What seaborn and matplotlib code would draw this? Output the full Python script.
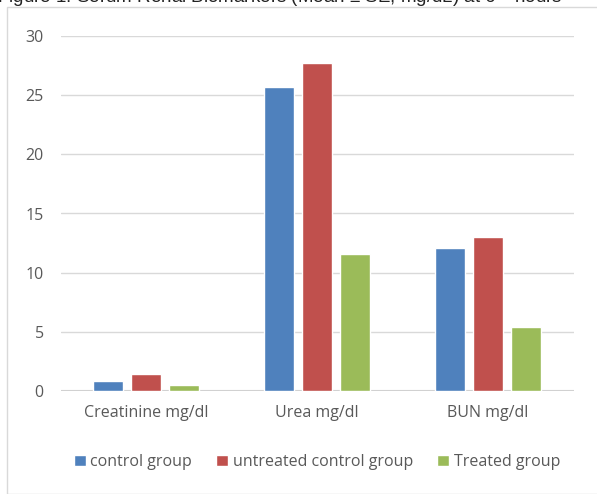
import matplotlib
matplotlib.use('Agg')
import matplotlib.pyplot as plt
import seaborn as sns
import pandas as pd
from matplotlib.patches import Rectangle

categories = ['Creatinine mg/dl', 'Urea mg/dl', 'BUN mg/dl']
groups = ['control group', 'untreated control group', 'Treated group']
control = [0.82, 25.7, 12.06]
untreated = [1.41, 27.7, 13.0]
treated = [0.53, 11.6, 5.45]
yticks = [0, 5, 10, 15, 20, 25, 30]
title = 'Figure 1: Serum Renal Biomarkers (Mean \u00b1 SE, mg/dL) at 6$^{th}$ hours'

df = pd.DataFrame({
    'cat': categories * 3,
    'group': [groups[0]] * 3 + [groups[1]] * 3 + [groups[2]] * 3,
    'val': control + untreated + treated,
})

sns.set_style('white')
plt.rcParams['font.family'] = ['Open Sans', 'DejaVu Sans']

W, H = 597, 494
fig = plt.figure(figsize=(W / 100, H / 100), dpi=100)

# chart border
fig.patches.append(Rectangle((7 / W, 0), 1, 1 - 7 / H, transform=fig.transFigure,
                             fill=False, edgecolor='#d9d9d9', linewidth=1))

ax = fig.add_axes([60.5 / W, (H - 391) / H, (573.5 - 60.5) / W, (391 - 36) / H])
sns.barplot(data=df, x='cat', y='val', hue='group', order=categories, hue_order=groups,
            palette=['#4F81BD', '#C0504D', '#9BBB59'], width=0.666, gap=0.21,
            saturation=1, ax=ax, legend=True)

ax.set_ylim(0, 30)
ax.set_yticks(yticks)
ax.set_xlim(-0.5, 2.5)
ax.yaxis.grid(True, color='#d9d9d9', linewidth=1)
ax.set_axisbelow(True)
for s in ax.spines.values():
    s.set_visible(False)
ax.axhline(0, color='#d0d0d0', linewidth=1.5, zorder=0.5)
ax.tick_params(length=0, labelsize=11.5, colors='#595959', pad=12)
ax.tick_params(axis='x', pad=10)
ax.set_xlabel('')
ax.set_ylabel('')

ax.legend(loc='center', bbox_to_anchor=(0.5, -(462 - 391) / (391 - 36)), ncol=3,
          frameon=False, fontsize=11.5, handlelength=0.75, handleheight=0.75,
          handletextpad=0.3, columnspacing=1.5, labelcolor='#595959')

fig.text(-0.005, 1 - 3 / H, title, fontsize=13.5, family='Liberation Sans',
         color='#222222', va='baseline', ha='left')

fig.savefig('out.png', dpi=100)
